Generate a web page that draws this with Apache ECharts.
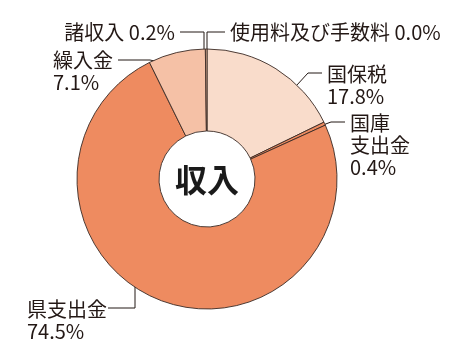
<!DOCTYPE html>
<html><head><meta charset="utf-8">
<script src="https://cdn.jsdelivr.net/npm/echarts@6/dist/echarts.min.js"></script>
<style>html,body{margin:0;padding:0;background:#fff}#c{width:454px;height:363px}</style>
</head><body><div id="c"></div>
<script>
// Data
const categories = ['使用料及び手数料', '国保税', '国庫\n支出金', '県支出金', '繰入金', '諸収入'];
const values = [0.0, 17.8, 0.4, 74.5, 7.1, 0.2];
const centerTitle = '収入';

// Styles / layout (not data)
const colors = ['#ee8b60', '#f9dccb', '#ee8b60', '#ee8b60', '#f5c1a6', '#f5c1a6'];
const labelStyles = [
  {x: 230, y: 32, align: 'left', pts: [[207, 54], [207, 32], [225, 32]], inline: true},
  {x: 327, y: 85, align: 'left', pts: [[285, 98], [308, 73], [322, 73]]},
  {x: 350, y: 145, align: 'left', pts: [[323, 125], [331, 122], [345, 122]]},
  {x: 27, y: 320, align: 'left', pts: [[135, 270], [135, 308], [108, 308]]},
  {x: 53, y: 71, align: 'left', pts: [[172, 65], [150, 60], [118, 60]]},
  {x: 175, y: 32, align: 'right', pts: [[204, 53], [204, 32], [180, 32]], inline: true}
];

const chart = echarts.init(document.getElementById('c'), null, {renderer: 'canvas'});
const fontFamily = '"Noto Sans CJK JP", "Noto Sans", sans-serif';
chart.setOption({
  animation: false,
  graphic: [{
    type: 'text',
    style: {text: centerTitle, x: 207, y: 180, fontSize: 32, fontWeight: 'bold', fill: '#1a1a1a',
      fontFamily: fontFamily, align: 'center', verticalAlign: 'middle'}
  }],
  series: [{
    type: 'pie',
    center: [207, 179],
    radius: [48, 130],
    startAngle: 90,
    clockwise: true,
    minAngle: 0,
    avoidLabelOverlap: false,
    itemStyle: {borderColor: '#3a2a25', borderWidth: 0.9},
    data: categories.map((n, i) => ({name: n, value: values[i], itemStyle: {color: colors[i]}})),
    label: {
      show: true,
      formatter: p => {
        const v = values[p.dataIndex].toFixed(1) + '%';
        return labelStyles[p.dataIndex].inline ? p.name + ' ' + v : p.name + '\n' + v;
      },
      fontSize: 20,
      lineHeight: 22,
      color: '#231815',
      fontFamily: fontFamily
    },
    labelLine: {show: true, lineStyle: {color: '#231815', width: 1}, smooth: false},
    labelLayout: p => {
      const s = labelStyles[p.dataIndex];
      return {x: s.x, y: s.y, align: s.align, verticalAlign: 'middle', labelLinePoints: s.pts};
    },
    emphasis: {disabled: true}
  }]
});
</script></body></html>
